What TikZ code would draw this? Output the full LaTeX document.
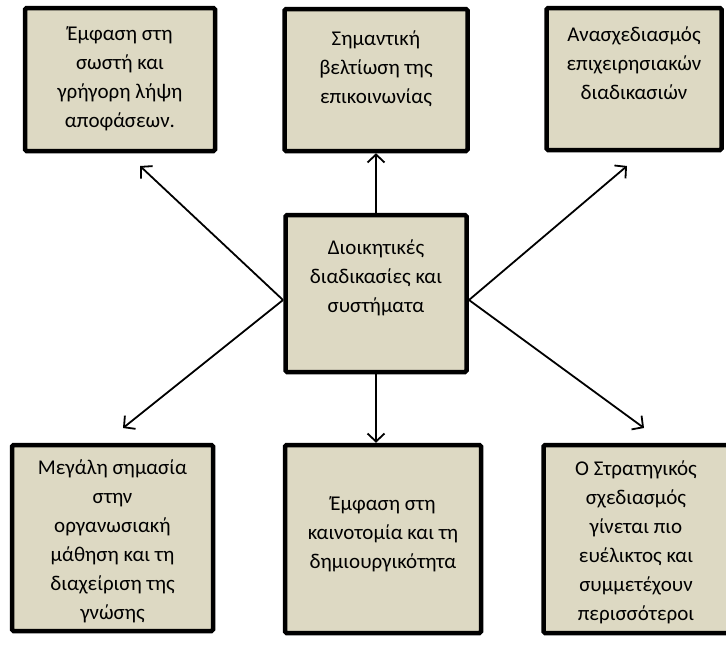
\documentclass[tikz,border=0pt]{standalone}
\usepackage{fontspec}
\setmainfont{Carlito}
\usetikzlibrary{positioning,arrows.meta}
\definecolor{boxfill}{HTML}{DDD9C3}
\tikzset{
  box/.style={draw, line width=4.5pt, fill=boxfill, rounded corners=1.5pt, inner sep=0pt},
  txt/.style={align=center, inner sep=0pt, font=\fontsize{21}{29}\selectfont},
  arr/.style={line width=1.8pt, -{Straight Barb[length=8pt,width=17pt]}}
}
\begin{document}
\begin{tikzpicture}[x=1pt, y=-1pt]
    \useasboundingbox (0,0) rectangle (726,645);
    % boxes
    \node[box, minimum width=190pt, minimum height=143pt] (tl) at (120,79.5) {};
    \node[box, minimum width=183pt, minimum height=142pt] (tm) at (376,80) {};
    \node[box, minimum width=175pt, minimum height=142pt] (tr) at (634,79) {};
    \node[box, minimum width=181pt, minimum height=157pt] (c) at (376,293.5) {};
    \node[box, minimum width=201pt, minimum height=186pt] (bl) at (112.5,538) {};
    \node[box, minimum width=196pt, minimum height=188pt] (bm) at (383,539) {};
    \node[box, minimum width=185pt, minimum height=188pt] (br) at (636,539) {};
    % texts
    \node[txt, below=21pt of tl.north] (tlt) {Έμφαση στη\\σωστή και\\γρήγορη λήψη\\αποφάσεων.};
    \node[txt, below=24pt of tm.north] (tmt) {Σημαντική\\βελτίωση της\\επικοινωνίας};
    \node[txt, below=21pt of tr.north] (trt) {Ανασχεδιασμός\\επιχειρησιακών\\διαδικασιών};
    \node[txt, below=27pt of c.north] (ct) {Διοικητικές\\διαδικασίες και\\συστήματα};
    \node[txt] (blt) at ([yshift=-3pt]bl.center) {Μεγάλη σημασία\\στην\\οργανωσιακή\\μάθηση και τη\\διαχείριση της\\γνώσης};
    \node[txt] (bmt) at ([yshift=5pt]bm.center) {Έμφαση στη\\καινοτομία και τη\\δημιουργικότητα};
    \node[txt] (brt) at ([yshift=-3pt]br.center) {Ο Στρατηγικός\\σχεδιασμός\\γίνεται πιο\\ευέλικτος και\\συμμετέχουν\\περισσότεροι};
    % arrows
    \coordinate (cl) at (283,300);
    \coordinate (cr) at (469,300);
    \coordinate (ptl) at (140,166);
    \coordinate (pbl) at (123,428);
    \coordinate (ptr) at (627,166);
    \coordinate (pbr) at (644,428);
    \foreach \u/\v in {cl/ptl,cl/pbl,cr/ptr,cr/pbr} { \draw[arr] (\u) -- (\v); }
    \draw[arr] (c.north) -- (tm.south);
    \draw[arr] (c.south) -- (c.south |- bm.north);
\end{tikzpicture}
\end{document}
